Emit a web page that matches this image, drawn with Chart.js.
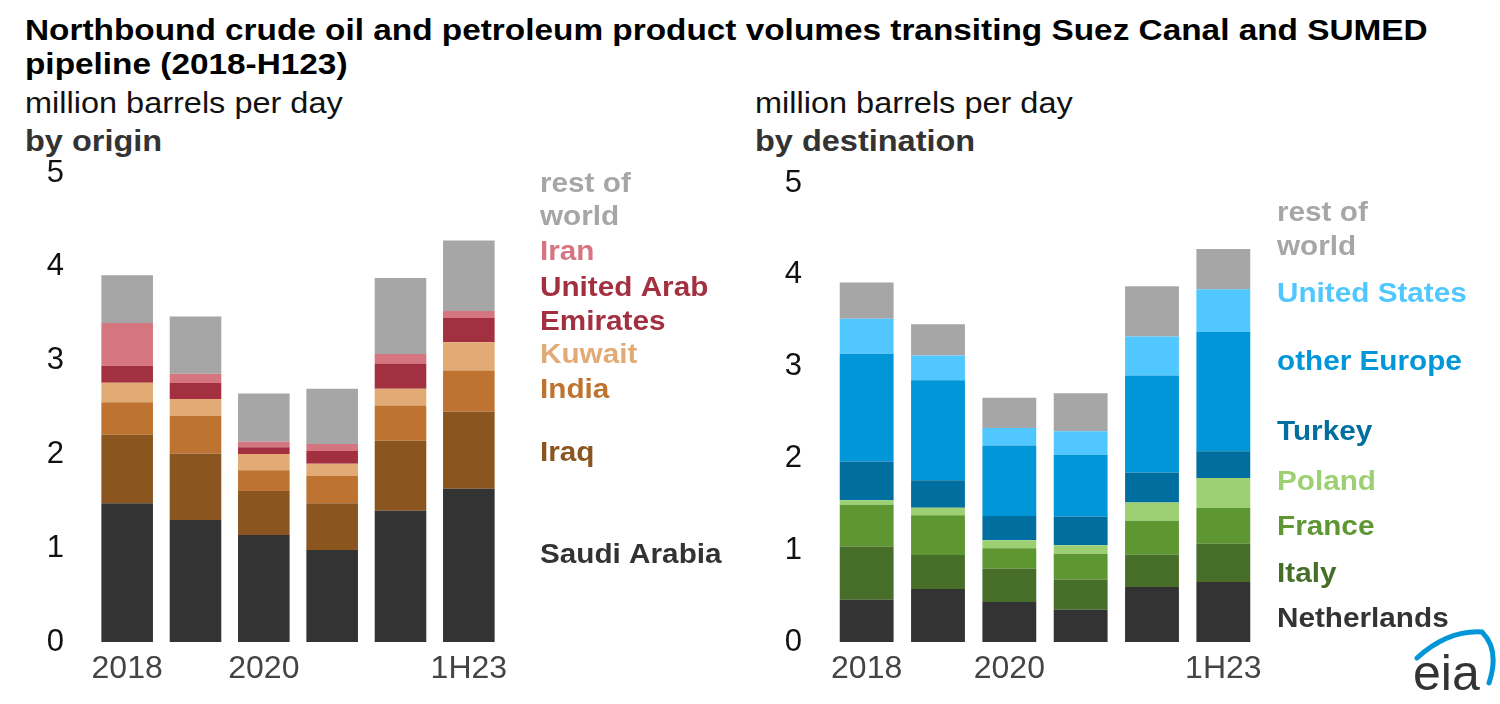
<!DOCTYPE html>
<html>
<head>
<meta charset="utf-8">
<style>
  * { margin: 0; padding: 0; box-sizing: border-box; }
  body {
    width: 1500px;
    height: 704px;
    background: #fff;
    position: relative;
    overflow: hidden;
    font-family: "Liberation Sans", Arial, sans-serif;
  }
  .txt {
    position: absolute;
    white-space: nowrap;
    transform-origin: 0 0;
    line-height: 33px;
    font-size: 29px;
  }
  .title { font-weight: 700; color: #000; transform: scaleX(1.15); }
  .unit { color: #111; transform: scaleX(1.12); }
  .sub { font-weight: 700; color: #333; transform: scaleX(1.12); }
  canvas { position: absolute; top: 150px; }
  #originChart { left: 0; }
  #destChart { left: 750px; }
  #logo { position: absolute; left: 0; top: 0; }
</style>
</head>
<body>

<div class="txt title" style="left:25px; top:14px;">Northbound crude oil and petroleum product volumes transiting Suez Canal and SUMED</div>
<div class="txt title" style="left:25px; top:48px;">pipeline (2018-H123)</div>

<div class="txt unit" style="left:25px; top:87px;">million barrels per day</div>
<div class="txt sub" style="left:25px; top:125px;">by origin</div>
<div class="txt unit" style="left:755px; top:87px;">million barrels per day</div>
<div class="txt sub" style="left:755px; top:125px;">by destination</div>

<canvas id="originChart" width="750" height="554"></canvas>
<canvas id="destChart" width="750" height="554"></canvas>

<svg id="logo" width="1500" height="704">
  <path d="M1417,658 Q1448,630 1482,632 Q1500,650 1489,683" fill="none" stroke="#0096d7" stroke-width="5" stroke-linecap="round"/>
  <text x="1413" y="690" font-family="Liberation Sans, Arial, sans-serif" font-size="50" fill="#333">eia</text>
</svg>

<script src="https://cdn.jsdelivr.net/npm/chart.js/dist/chart.umd.min.js"></script>
<script>
// categories and tick labels
const years = ['2018', '2019', '2020', '2021', '2022', '1H23'];
const yearTicks = ['2018', '', '2020', '', '', '1H23'];

// by origin, million b/d
const saudiArabia = [1.48, 1.30, 1.14, 0.98, 1.40, 1.635];
const iraq        = [0.73, 0.71, 0.47, 0.50, 0.745, 0.82];
const india       = [0.345, 0.40, 0.22, 0.29, 0.375, 0.44];
const kuwait      = [0.21, 0.18, 0.175, 0.13, 0.18, 0.30];
const uae         = [0.18, 0.17, 0.07, 0.135, 0.27, 0.26];
const iran        = [0.455, 0.10, 0.06, 0.075, 0.10, 0.075];
const restOrigin  = [0.51, 0.61, 0.515, 0.59, 0.81, 0.75];

// by destination, million b/d
const netherlands  = [0.46, 0.577, 0.436, 0.35, 0.60, 0.654];
const italy        = [0.58, 0.37, 0.364, 0.33, 0.35, 0.417];
const france       = [0.455, 0.435, 0.22, 0.28, 0.37, 0.392];
const poland       = [0.05, 0.08, 0.088, 0.094, 0.20, 0.323];
const turkey       = [0.42, 0.30, 0.265, 0.312, 0.327, 0.291];
const otherEurope  = [1.175, 1.09, 0.767, 0.675, 1.056, 1.30];
const unitedStates = [0.38, 0.27, 0.19, 0.255, 0.425, 0.465];
const restDest     = [0.395, 0.34, 0.33, 0.414, 0.548, 0.44];

const GREY = '#a6a6a6';

// labels drawn to the right of the bars, y given in axis units
const sideLabels = {
  id: 'sideLabels',
  afterDraw(chart, args, opts) {
    const ctx = chart.ctx;
    const y = chart.scales.y;
    const x = chart.chartArea.right + opts.offset;
    ctx.save();
    ctx.font = 'bold 27px "Liberation Sans", Arial, sans-serif';
    ctx.textBaseline = 'middle';
    opts.items.forEach(it => {
      ctx.save();
      ctx.translate(x, y.getPixelForValue(it.at));
      ctx.scale(1.1, 1);
      ctx.fillStyle = it.color;
      ctx.fillText(it.text, 0, 0);
      ctx.restore();
    });
    ctx.restore();
  }
};

function makeChart(id, datasets, pad, axisWidth, labelOffset, items) {
  return new Chart(document.getElementById(id), {
    type: 'bar',
    data: {
      labels: years,
      datasets: datasets.map(d => ({
        label: d[0], data: d[1], backgroundColor: d[2], borderWidth: 0
      }))
    },
    options: {
      responsive: false,
      animation: false,
      layout: { padding: pad },
      datasets: { bar: { categoryPercentage: 1, barPercentage: 0.755 } },
      plugins: {
        legend: { display: false },
        tooltip: { enabled: false },
        sideLabels: { offset: labelOffset, items: items }
      },
      scales: {
        x: {
          stacked: true,
          grid: { display: false, drawTicks: false },
          border: { display: false },
          ticks: {
            color: '#444',
            font: { size: 32, family: '"Liberation Sans", Arial, sans-serif' },
            padding: 8,
            maxRotation: 0,
            autoSkip: false,
            callback: (v, i) => yearTicks[i]
          },
          afterFit: s => { s.height = 62; s.paddingLeft = 0; s.paddingRight = 0; }
        },
        y: {
          stacked: true,
          min: 0,
          max: 5,
          grid: { display: false, drawTicks: false },
          border: { display: false },
          ticks: {
            stepSize: 1,
            color: '#111',
            padding: 29,
            font: { size: 31, family: '"Liberation Sans", Arial, sans-serif' }
          },
          afterFit: s => { s.width = axisWidth; s.paddingTop = 0; s.paddingBottom = 0; }
        }
      }
    },
    plugins: [sideLabels]
  });
}

makeChart('originChart', [
  ['Saudi Arabia', saudiArabia, '#333333'],
  ['Iraq', iraq, '#8b5520'],
  ['India', india, '#be7430'],
  ['Kuwait', kuwait, '#e2aa75'],
  ['United Arab Emirates', uae, '#a33040'],
  ['Iran', iran, '#d57580'],
  ['rest of world', restOrigin, GREY]
], { top: 23, right: 247, bottom: 0, left: 0 }, 93, 37, [
  { text: 'rest of', at: 4.88, color: GREY },
  { text: 'world', at: 4.52, color: GREY },
  { text: 'Iran', at: 4.15, color: '#d57580' },
  { text: 'United Arab', at: 3.77, color: '#a33040' },
  { text: 'Emirates', at: 3.41, color: '#a33040' },
  { text: 'Kuwait', at: 3.05, color: '#e2aa75' },
  { text: 'India', at: 2.68, color: '#be7430' },
  { text: 'Iraq', at: 2.01, color: '#8b5520' },
  { text: 'Saudi Arabia', at: 0.92, color: '#333333' }
]);

makeChart('destChart', [
  ['Netherlands', netherlands, '#333333'],
  ['Italy', italy, '#476e28'],
  ['France', france, '#5e9632'],
  ['Poland', poland, '#9dd073'],
  ['Turkey', turkey, '#006e9e'],
  ['other Europe', otherEurope, '#0096d7'],
  ['United States', unitedStates, '#50c8ff'],
  ['rest of world', restDest, GREY]
], { top: 33, right: 241, bottom: 0, left: 0 }, 81, 18, [
  { text: 'rest of', at: 4.67, color: GREY },
  { text: 'world', at: 4.30, color: GREY },
  { text: 'United States', at: 3.79, color: '#50c8ff' },
  { text: 'other Europe', at: 3.04, color: '#0096d7' },
  { text: 'Turkey', at: 2.28, color: '#006e9e' },
  { text: 'Poland', at: 1.74, color: '#9dd073' },
  { text: 'France', at: 1.25, color: '#5e9632' },
  { text: 'Italy', at: 0.74, color: '#476e28' },
  { text: 'Netherlands', at: 0.24, color: '#333333' }
]);
</script>
</body>
</html>
